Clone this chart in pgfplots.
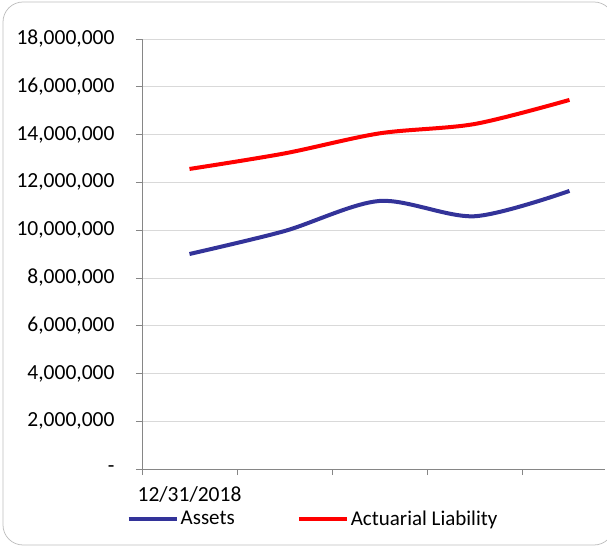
\documentclass[border=0pt]{standalone}
\usepackage{fontspec}
\setmainfont{Carlito}
\usepackage{pgfplots}
\pgfplotsset{compat=1.18}
\definecolor{assetblue}{HTML}{333399}
\definecolor{gridgray}{HTML}{D9D9D9}
\definecolor{axisgray}{HTML}{868686}
\definecolor{framegray}{HTML}{BFBFBF}

\begin{document}
\begin{tikzpicture}
\begin{axis}[
    scale only axis,
    width=463bp, height=430bp,
    xmin=-0.5, xmax=4.374,
    ymin=0, ymax=18000000,
    axis x line*=bottom,
    axis y line*=left,
    axis line style={axisgray, line width=0.75bp},
    tick align=outside,
    major tick length=6bp,
    tick style={axisgray, line width=0.75bp},
    scaled y ticks=false,
    ytick={0,2000000,4000000,6000000,8000000,10000000,12000000,14000000,16000000,18000000},
    yticklabels={-\hspace{-4bp},{2,000,000},{4,000,000},{6,000,000},{8,000,000},{10,000,000},{12,000,000},{14,000,000},{16,000,000},{18,000,000}},
    xtick={-0.5,0.5,1.5,2.5,3.5},
    xticklabels={{},{},{},{},{}},
    extra x ticks={0},
    extra x tick labels={12/31/2018},
    extra x tick style={major tick length=0pt, grid=none, xticklabel style={yshift=-14bp}},
    ymajorgrids,
    grid style={gridgray, line width=0.75bp},
    tick label style={font=\fontsize{21.5bp}{25bp}\selectfont, black},
    yticklabel style={xshift=-18bp},
    legend columns=2,
    legend style={draw=none, fill=none, at={(-0.04,-0.116)}, anchor=west,
        font=\fontsize{21bp}{25bp}\selectfont,
        /tikz/every even column/.append style={column sep=60bp}},
    legend image code/.code={\draw[#1] (0bp,0bp) -- (48bp,0bp);},
    clip=false,
]
\addplot[assetblue, line width=4bp, smooth, tension=0.5] coordinates {
    (0,9000000) (1,9960000) (2,11220000) (3,10580000) (4,11640000)
};
\addplot[red, line width=4bp, smooth, tension=0.5] coordinates {
    (0,12560000) (1,13210000) (2,14050000) (3,14440000) (4,15450000)
};
\legend{Assets, Actuarial Liability}
\coordinate (O) at (rel axis cs:0,0);
\end{axis}
\pgfresetboundingbox
\path[use as bounding box, shift={(O)}] (-142bp,-79bp) rectangle (465bp,469bp);
\draw[framegray, line width=0.75bp, rounded corners=20bp, shift={(O)}] (-139bp,-76bp) rectangle (472bp,467bp);
\end{tikzpicture}
\end{document}
